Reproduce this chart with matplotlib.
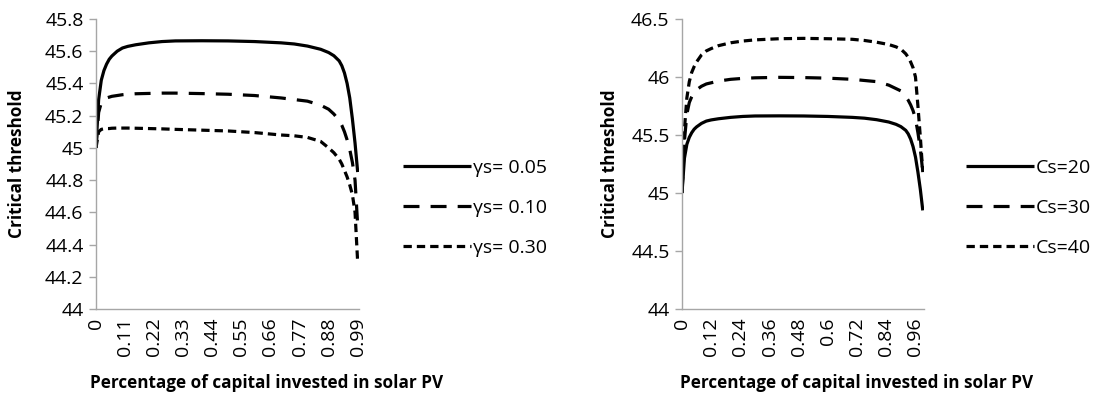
import matplotlib
matplotlib.use("Agg")
import matplotlib.pyplot as plt

plt.rcParams["font.family"] = ["Open Sans", "DejaVu Sans"]
plt.rcParams["lines.scale_dashes"] = False

# share of capital in solar PV (x) and critical threshold values
x_pts = [0, 0.01, 0.02, 0.03, 0.04, 0.05, 0.06, 0.08, 0.10, 0.12, 0.15, 0.20, 0.25,
         0.30, 0.40, 0.50, 0.60, 0.70, 0.75, 0.80, 0.85, 0.88, 0.90, 0.92, 0.93,
         0.94, 0.95, 0.96, 0.97, 0.98, 0.99]

gamma_005 = [45.0, 45.30, 45.42, 45.48, 45.52, 45.55, 45.57, 45.60, 45.62, 45.63, 45.64,
             45.652, 45.66, 45.664, 45.665, 45.664, 45.66, 45.652, 45.645, 45.632, 45.612,
             45.592, 45.572, 45.54, 45.51, 45.465, 45.40, 45.31, 45.18, 45.03, 44.85]
gamma_010 = [45.0, 45.22, 45.28, 45.30, 45.31, 45.315, 45.32, 45.325, 45.33, 45.333, 45.336,
             45.338, 45.34, 45.34, 45.337, 45.333, 45.325, 45.31, 45.30, 45.29, 45.265,
             45.24, 45.21, 45.17, 45.14, 45.10, 45.05, 44.99, 44.91, 44.80, 44.52]
gamma_030 = [45.0, 45.10, 45.115, 45.118, 45.12, 45.12, 45.122, 45.123, 45.123, 45.123, 45.122,
             45.12, 45.118, 45.115, 45.11, 45.105, 45.095, 45.08, 45.075, 45.065, 45.04,
             45.00, 44.97, 44.93, 44.90, 44.86, 44.82, 44.77, 44.71, 44.60, 44.29]

cs_20 = gamma_005
cs_30 = [45.0, 45.45, 45.68, 45.78, 45.83, 45.87, 45.89, 45.92, 45.94, 45.95, 45.965,
         45.98, 45.988, 45.993, 45.997, 45.995, 45.99, 45.98, 45.97, 45.96, 45.93,
         45.90, 45.88, 45.83, 45.80, 45.76, 45.71, 45.64, 45.52, 45.38, 45.18]
cs_40 = [45.0, 45.55, 45.82, 45.96, 46.04, 46.09, 46.13, 46.19, 46.225, 46.245, 46.27,
         46.295, 46.31, 46.32, 46.33, 46.333, 46.33, 46.325, 46.315, 46.30, 46.28,
         46.26, 46.24, 46.20, 46.17, 46.13, 46.08, 46.00, 45.75, 45.48, 45.18]

left_ticks = [0, 0.11, 0.22, 0.33, 0.44, 0.55, 0.66, 0.77, 0.88, 0.99]
left_labels = ["0", "0.11", "0.22", "0.33", "0.44", "0.55", "0.66", "0.77", "0.88", "0.99"]
right_ticks = [0, 0.12, 0.24, 0.36, 0.48, 0.60, 0.72, 0.84, 0.96]
right_labels = ["0", "0.12", "0.24", "0.36", "0.48", "0.6", "0.72", "0.84", "0.96"]

left_series = [("γs= 0.05", gamma_005), ("γs= 0.10", gamma_010), ("γs= 0.30", gamma_030)]
right_series = [("Cs=20", cs_20), ("Cs=30", cs_30), ("Cs=40", cs_40)]

W, H = 1101, 394
FS = 14
LFS = 12.3  # bold axis titles
styles = [dict(linestyle="-"),
          dict(linestyle=(0, (11.5, 8.0))),
          dict(linestyle=(0, (6.0, 3.6)))]

fig = plt.figure(figsize=(W / 100, H / 100), dpi=100)


def make_panel(left_px, right_px, series, ylim, yticks, ytick_labels, xticks, xlabels,
               legend_x, xlabel_x, ylabel_x):
    ax = fig.add_axes([left_px / W, 1 - 309 / H, (right_px - left_px) / W, 290 / H])
    for (label, vals), st in zip(series, styles):
        ax.plot(x_pts, vals, color="black", lw=2.3, dash_capstyle="butt",
                solid_capstyle="butt", label=label, **st)
    ax.set_xlim(0, 0.995)
    ax.set_ylim(*ylim)
    ax.set_yticks(yticks)
    ax.set_yticklabels(ytick_labels, fontsize=FS)
    ax.set_xticks(xticks)
    ax.set_xticklabels(xlabels, rotation=90, fontsize=FS)
    ax.tick_params(axis="x", length=0, pad=6)
    ax.tick_params(axis="y", length=5, width=1, color="#a6a6a6", pad=4)
    for s in ("top", "right"):
        ax.spines[s].set_visible(False)
    for s in ("left", "bottom"):
        ax.spines[s].set_color("#a6a6a6")
        ax.spines[s].set_linewidth(1.0)
    ax.set_ylabel("Critical threshold", fontsize=LFS, fontweight="bold", va="center")
    ax.yaxis.set_label_coords((ylabel_x - left_px) / (right_px - left_px), 0.5)
    fig.text(xlabel_x / W, 1 - 383 / H, "Percentage of capital invested in solar PV",
             fontsize=LFS, fontweight="bold", ha="center", va="center")
    ax.legend(loc="center left", bbox_to_anchor=(legend_x / W, 1 - 208 / H),
              bbox_transform=fig.transFigure, frameon=False, fontsize=FS,
              handlelength=3.5, handletextpad=0.1, labelspacing=1.12,
              borderpad=0, borderaxespad=0)
    return ax


make_panel(96, 359, left_series, (44, 45.8),
           [44, 44.2, 44.4, 44.6, 44.8, 45, 45.2, 45.4, 45.6, 45.8],
           ["44", "44.2", "44.4", "44.6", "44.8", "45", "45.2", "45.4", "45.6", "45.8"],
           left_ticks, left_labels, 403, 267, 17)
make_panel(682, 924, right_series, (44, 46.5),
           [44, 44.5, 45, 45.5, 46, 46.5],
           ["44", "44.5", "45", "45.5", "46", "46.5"],
           right_ticks, right_labels, 966, 857, 610)

fig.savefig("out.png", dpi=100)
